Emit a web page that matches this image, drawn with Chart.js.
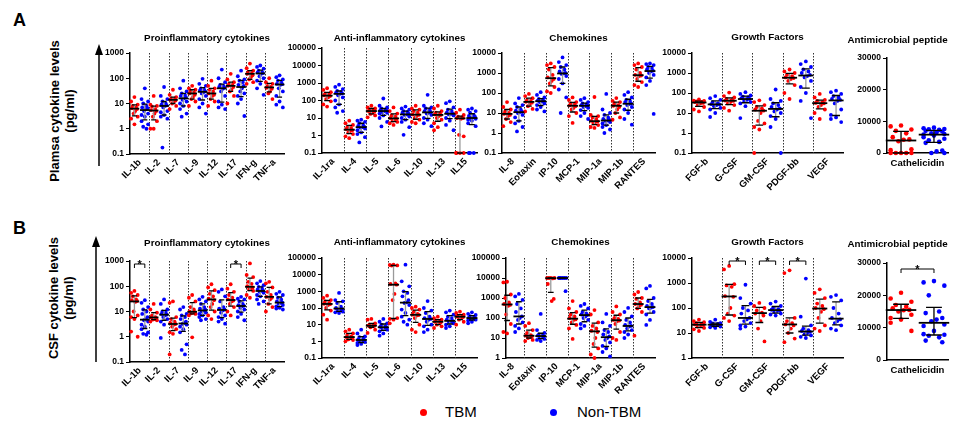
<!DOCTYPE html>
<html>
<head>
<meta charset="utf-8">
<script src="https://cdn.jsdelivr.net/npm/chart.js@4.4.0/dist/chart.umd.min.js"></script>
<style>
  body { margin: 0; width: 978px; height: 422px; background: #fff; position: relative; overflow: hidden;
         font-family: 'Liberation Sans', Arial, Helvetica, sans-serif; color: #000; }
  canvas { position: absolute; }
  .letter { position: absolute; font-weight: bold; font-size: 18px; line-height: 18px; }
  .ytitle { position: absolute; font-weight: bold; font-size: 13px; line-height: 15px; text-align: center;
            white-space: nowrap; transform: translate(-50%, -50%) rotate(-90deg); }
  .dot { position: absolute; width: 7px; height: 7px; border-radius: 50%; }
  .legtext { position: absolute; font-size: 15px; line-height: 18px; }
  svg { position: absolute; left: 0; top: 0; }
</style>
</head>
<body>

<div class="letter" style="left:13px;top:11px">A</div>
<div class="letter" style="left:13px;top:219px">B</div>
<div class="ytitle" style="left:62px;top:111px">Plamsa cytokine levels<br>(pg/ml)</div>
<div class="ytitle" style="left:61px;top:298px">CSF cytokine levels<br>(pg/ml)</div>

<svg width="978" height="422">
  <line x1="99" y1="166" x2="99" y2="52" stroke="#000" stroke-width="1.5"/>
  <polygon points="99,44 95,55 103,55" fill="#000"/>
  <line x1="96" y1="362" x2="96" y2="244" stroke="#000" stroke-width="1.5"/>
  <polygon points="96,236 92,247 100,247" fill="#000"/>
</svg>

<div class="dot" style="left:420px;top:409px;background:#ff0000"></div>
<div class="legtext" style="left:445px;top:403px">TBM</div>
<div class="dot" style="left:550px;top:409px;background:#0000ff"></div>
<div class="legtext" style="left:577px;top:403px">Non-TBM</div>

<script>
// tick labels
const ticksPro = ['0.1', '1', '10', '100', '1000'];
const ticksWide = ['0.1', '1', '10', '100', '1000', '10000', '100000'];
const ticksChemoA = ['0.1', '1', '10', '100', '1000', '10000'];
const ticksChemoB = ['1', '10', '100', '1000', '10000', '100000'];
const ticksGrowthB = ['1', '10', '100', '1000', '10000'];
const ticksPeptide = ['0', '10000', '20000', '30000'];

// categories
const proCats = ['IL-1b', 'IL-2', 'IL-7', 'IL-9', 'IL-12', 'IL-17', 'IFN-g', 'TNF-a'];
const antiCats = ['IL-1ra', 'IL-4', 'IL-5', 'IL-6', 'IL-10', 'IL-13', 'IL15'];
const chemoCats = ['IL-8', 'Eotaxin', 'IP-10', 'MCP-1', 'MIP-1a', 'MIP-1b', 'RANTES'];
const growthCats = ['FGF-b', 'G-CSF', 'GM-CSF', 'PDGF-bb', 'VEGF'];
const peptideCats = ['Cathelicidin'];

// A: plasma (pg/ml)
const plasmaProTBM = [
  [18, 12, 9, 8, 7, 6.5, 6, 5, 4, 3, 2.5, 1.5],
  [20, 9, 8, 7.5, 6, 5.5, 5, 4, 3, 2, 1, 1],
  [35, 22, 18, 16, 15, 14, 13, 12, 10, 8, 6],
  [50, 40, 35, 30, 27, 25, 22, 18, 15, 12, 8],
  [80, 50, 40, 35, 30, 25, 22, 20, 15, 12, 8],
  [150, 90, 70, 60, 55, 50, 45, 35, 30, 20, 10],
  [380, 250, 200, 180, 160, 150, 130, 110, 90, 70, 60],
  [100, 70, 60, 50, 45, 42, 38, 30, 25, 15]
];
const plasmaProNon = [
  [40, 15, 12, 10, 8, 7, 6.5, 6, 5, 4, 3.5, 3, 2, 1.5, 1.2, 1],
  [45, 20, 15, 12, 10, 9, 8.5, 8, 7, 5, 4.5, 3.5, 3, 2.5, 0.18],
  [80, 40, 30, 25, 22, 20, 18, 16, 14, 12, 10, 8, 6, 4, 3],
  [95, 60, 50, 40, 35, 33, 30, 28, 25, 20, 15, 10, 7, 4],
  [220, 100, 70, 55, 50, 45, 42, 38, 30, 20, 12, 9, 7, 6],
  [200, 120, 90, 80, 70, 55, 50, 40, 30, 25, 20, 15, 10, 3.2],
  [320, 280, 240, 200, 180, 170, 160, 150, 120, 100, 80, 60, 40, 22],
  [130, 110, 90, 80, 70, 60, 58, 55, 40, 30, 20, 12, 9, 7]
];
const plasmaAntiTBM = [
  [500, 400, 300, 250, 220, 200, 180, 150, 120, 90, 60, 45],
  [7, 5, 4, 3, 2.7, 2.3, 2, 1.8, 1.5, 1.2, 0.9, 0.7],
  [50, 40, 35, 30, 27, 25, 23, 20, 17, 14, 11],
  [40, 25, 18, 14, 12, 10, 9, 8, 7, 6, 5, 4],
  [50, 35, 30, 25, 20, 16, 15, 13, 10, 8, 6, 5],
  [50, 35, 25, 20, 18, 16, 15, 13, 10, 8, 5, 3, 2],
  [30, 20, 15, 12, 11, 10, 10, 9, 1.1, 0.9, 0.1, 0.1, 0.1, 0.1]
];
const plasmaAntiNon = [
  [800, 600, 450, 350, 300, 280, 260, 240, 200, 150, 100, 60, 40, 25, 20],
  [8, 7, 6, 5, 4, 3.5, 3.2, 3, 2.8, 2.5, 2, 1.5, 1.2, 0.8, 0.4],
  [130, 50, 40, 35, 30, 28, 27, 25, 22, 20, 18, 14, 10, 6, 3.3],
  [45, 35, 30, 25, 22, 20, 18, 16, 15, 12, 10, 8, 6, 3, 1.1],
  [210, 50, 40, 35, 30, 25, 22, 20, 18, 15, 10, 8, 5, 3.4],
  [90, 70, 40, 30, 25, 20, 18, 17, 16, 14, 10, 7, 4, 2],
  [35, 30, 25, 20, 15, 13, 12, 11, 10, 9, 8, 7, 5, 3.4, 0.1, 0.1, 0.1]
];
const plasmaChemoTBM = [
  [35, 20, 15, 12, 10, 9, 8, 7, 5, 3.5, 2.2],
  [90, 70, 55, 45, 40, 36, 33, 28, 22, 16, 12],
  [3000, 2500, 2000, 1500, 800, 600, 500, 400, 300, 200, 120, 100],
  [60, 45, 35, 30, 27, 24, 22, 18, 15, 10, 7, 3.2],
  [63, 8, 7, 6, 5, 4, 3.8, 3.5, 3, 2.5, 2, 1.8],
  [56, 40, 35, 30, 25, 23, 20, 15, 10, 6, 4.6],
  [3000, 2500, 2000, 1500, 1000, 800, 750, 700, 500, 350, 250, 200]
];
const plasmaChemoNon = [
  [56, 30, 25, 20, 15, 13, 12, 11, 10, 8, 6, 4, 3, 2, 1.2],
  [110, 80, 60, 50, 45, 42, 40, 38, 35, 30, 25, 20, 15, 12],
  [6000, 3500, 2500, 2000, 1500, 1200, 1000, 950, 900, 700, 500, 300, 150, 60, 10],
  [55, 45, 35, 30, 27, 25, 24, 22, 20, 18, 14, 10, 7, 5],
  [90, 15, 10, 8, 6, 5, 4.6, 4.2, 4, 3.5, 3, 2.5, 2, 1.5, 1],
  [110, 80, 60, 45, 40, 35, 30, 28, 25, 20, 15, 10, 5, 2.6],
  [3000, 2800, 2500, 2000, 1800, 1500, 1300, 1200, 1000, 800, 600, 400, 250, 9]
];
const plasmaGrowthTBM = [
  [48, 42, 40, 38, 36, 35, 32, 30, 25, 20, 15, 12],
  [105, 70, 60, 50, 45, 42, 40, 35, 30, 25, 18, 13],
  [43, 35, 25, 20, 17, 15, 13, 10, 4, 3, 2, 1.5, 0.1],
  [1500, 1200, 1000, 800, 700, 600, 560, 500, 400, 250, 100, 50],
  [90, 60, 45, 40, 35, 32, 30, 25, 20, 15, 10, 5]
];
const plasmaGrowthNon = [
  [70, 55, 45, 35, 30, 28, 27, 25, 22, 18, 15, 10, 6.3],
  [110, 90, 75, 65, 60, 55, 50, 45, 40, 35, 30, 22, 5.6],
  [150, 50, 40, 30, 25, 20, 17, 15, 12, 10, 7, 5, 2, 0.1],
  [3800, 2800, 2000, 1500, 1200, 1000, 800, 700, 600, 400, 200, 100, 40, 5.6],
  [130, 110, 90, 70, 60, 50, 45, 40, 30, 15, 8, 6, 5, 3.5]
];
const plasmaPeptideTBM = [
  [8700, 8400, 7400, 7000, 6200, 5000, 4300, 4200, 3700, 1200, 900, 0, 0, 0, 0, 0]
];
const plasmaPeptideNon = [
  [8000, 7800, 7600, 7500, 7300, 7000, 6800, 6500, 6200, 6000, 5800, 5500, 5000, 4500, 4000, 3500, 3200, 800, 500, 0, 0]
];

// B: CSF (pg/ml)
const csfProTBM = [
  [65, 55, 45, 40, 30, 28, 26, 24, 10, 7, 6, 5, 1.6, 1],
  [20, 12, 9, 7, 6, 5.8, 5.5, 5, 4.8, 4.5, 4],
  [25, 22, 6, 5, 4, 3.5, 3.2, 3, 2.5, 2, 1.5, 1.3, 0.2],
  [45, 35, 25, 15, 12, 10, 9.5, 9, 8.5, 8, 7, 0.95],
  [120, 90, 70, 50, 40, 32, 28, 20, 15, 10, 7, 5],
  [120, 80, 60, 45, 35, 30, 27, 25, 20, 15, 10, 7],
  [800, 280, 230, 150, 125, 100, 90, 80, 75, 65, 45, 35],
  [150, 130, 90, 60, 45, 38, 35, 30, 20, 15, 10]
];
const csfProNon = [
  [28, 22, 15, 12, 10, 8, 6, 5, 4.5, 4, 3, 2.5, 2, 1.5, 1.3, 1.2],
  [30, 20, 12, 10, 9, 8, 7.5, 7, 6, 5, 4, 3, 0.9],
  [15, 12, 8, 7, 6, 5, 4, 3.5, 3.2, 3, 2.5, 2, 1.5, 0.5, 0.3, 0.2],
  [38, 30, 25, 20, 15, 13, 12, 11, 10, 9, 8, 7, 6, 5, 4.5],
  [75, 60, 40, 25, 15, 13, 12, 11, 9, 7, 6, 5, 4, 3.3],
  [38, 32, 30, 25, 20, 18, 17, 16, 14, 12, 10, 8, 6, 4.5],
  [160, 130, 110, 95, 85, 75, 70, 65, 60, 55, 45, 40, 30, 25, 20],
  [60, 50, 45, 35, 30, 25, 23, 22, 20, 18, 16, 14, 13, 12]
];
const csfAntiTBM = [
  [550, 400, 300, 250, 200, 180, 170, 150, 100, 70, 40, 20],
  [5, 4, 3, 2.5, 2, 1.8, 1.7, 1.5, 1.3, 1.2, 1],
  [22, 20, 12, 10, 9, 8.7, 8.5, 8, 7, 5, 3.2],
  [40000, 38000, 36000, 35000, 3000, 2800, 2500, 700, 300, 25, 22, 20, 12],
  [120, 100, 80, 60, 45, 40, 38, 35, 25, 10, 5, 3.6],
  [30, 25, 20, 18, 16, 15, 14, 12, 10, 8, 6.3],
  [60, 50, 40, 35, 32, 30, 28, 25, 20, 15, 10]
];
const csfAntiNon = [
  [800, 300, 250, 200, 120, 100, 85, 80, 70, 60, 55, 50],
  [5, 3, 2, 1.8, 1.5, 1.3, 1.2, 1.1, 1, 0.9, 0.8, 0.7, 0.6],
  [22, 15, 12, 10, 8, 7.5, 7, 6.5, 6, 5, 4, 3, 2.2],
  [40000, 4000, 2000, 1000, 800, 500, 300, 220, 200, 150, 80, 50, 30, 20, 15, 10],
  [260, 100, 70, 50, 30, 25, 22, 20, 15, 10, 8, 5, 3.6],
  [70, 55, 40, 30, 25, 20, 17, 16, 15, 12, 10, 8, 6.3],
  [55, 45, 38, 32, 28, 26, 25, 24, 22, 20, 18, 15, 12]
];
const csfChemoTBM = [
  [6500, 6000, 1500, 1000, 600, 500, 450, 400, 150, 50, 20, 17],
  [55, 40, 25, 18, 14, 13, 12, 11, 10, 8, 7],
  [10000, 10000, 10000, 10000, 9500, 5000, 900, 700],
  [700, 300, 200, 150, 120, 100, 85, 80, 60, 45, 30, 9],
  [250, 150, 60, 40, 30, 23, 20, 10, 5, 3, 1.5, 1],
  [380, 200, 150, 100, 90, 80, 75, 70, 50, 20, 10, 8],
  [2000, 1500, 1000, 900, 600, 500, 460, 400, 300, 200, 13]
];
const csfChemoNon = [
  [1600, 1200, 800, 500, 300, 200, 120, 100, 80, 60, 40, 30, 20],
  [160, 25, 18, 15, 14, 13, 12, 11, 10, 9, 8, 7],
  [10000, 10000, 10000, 10000, 10000, 9800, 2200],
  [500, 400, 300, 200, 170, 150, 140, 120, 100, 80, 50, 40, 30],
  [160, 60, 40, 25, 20, 15, 12, 10, 8, 6, 4, 3, 2, 1.2],
  [320, 200, 120, 80, 60, 45, 40, 38, 30, 25, 20, 15, 10],
  [4000, 3000, 1000, 700, 500, 400, 350, 330, 300, 200, 150, 80, 45]
];
const csfGrowthTBM = [
  [34, 30, 27, 25, 23, 22, 21, 20, 18, 16, 14, 12],
  [4800, 3500, 900, 800, 700, 300, 280, 100, 60, 50, 40, 30],
  [160, 120, 100, 80, 65, 60, 50, 30, 15, 4.6],
  [3200, 2500, 40, 30, 25, 22, 20, 15, 10, 6, 4.3],
  [560, 400, 250, 150, 120, 100, 90, 70, 40, 20, 15, 12]
];
const csfGrowthNon = [
  [34, 28, 25, 24, 23, 22, 21, 20, 19, 18, 17, 16],
  [850, 250, 150, 100, 80, 60, 40, 35, 30, 25, 20, 18, 15],
  [180, 150, 120, 100, 90, 85, 80, 75, 70, 60, 55, 50],
  [1500, 45, 20, 15, 13, 12, 11, 10, 9, 8, 7, 6.3],
  [330, 280, 200, 100, 60, 40, 35, 30, 25, 20, 15, 13]
];
const csfPeptideTBM = [
  [20800, 19000, 18000, 17000, 16500, 16000, 15500, 15400, 15000, 14000, 13000, 12500, 11500, 9000]
];
const csfPeptideNon = [
  [24400, 24000, 23000, 20000, 15000, 14500, 13000, 12500, 12000, 11000, 10500, 9000, 8000, 7800, 7500, 7000, 6000, 5500]
];

// categories marked * (TBM vs Non-TBM)
const csfProSig = [0, 5];
const csfGrowthSig = [1, 2, 3];
const csfPeptideSig = [0];

const RED = '#ff0000';
const BLUE = '#0000ff';
const OFF = 0.27;
const SPREAD = [0, -1, 1, -0.5, 0.5, -0.8, 0.8, 0.25, -0.25, 1, -1];

Chart.defaults.font.family = "'Liberation Sans', Arial, Helvetica, sans-serif";
Chart.defaults.color = '#000';

const panels = [
  { cats: proCats, tbm: plasmaProTBM, non: plasmaProNon, ticks: ticksPro, log: true, sig: [],
    title: 'Proinflammatory cytokines', left: 130, right: 284, top: 53, bottom: 154, titleY: 38 },
  { cats: antiCats, tbm: plasmaAntiTBM, non: plasmaAntiNon, ticks: ticksWide, log: true, sig: [],
    title: 'Anti-inflammatory cytokines', left: 322, right: 477, top: 48, bottom: 153, titleY: 38 },
  { cats: chemoCats, tbm: plasmaChemoTBM, non: plasmaChemoNon, ticks: ticksChemoA, log: true, sig: [],
    title: 'Chemokines', left: 502, right: 655, top: 53, bottom: 153, titleY: 38 },
  { cats: growthCats, tbm: plasmaGrowthTBM, non: plasmaGrowthNon, ticks: ticksChemoA, log: true, sig: [],
    title: 'Growth Factors', left: 692, right: 843, top: 53, bottom: 153, titleY: 37 },
  { cats: peptideCats, tbm: plasmaPeptideTBM, non: plasmaPeptideNon, ticks: ticksPeptide, log: false, sig: [],
    title: 'Antimicrobial peptide', left: 887, right: 948, top: 58, bottom: 153, titleY: 40 },
  { cats: proCats, tbm: csfProTBM, non: csfProNon, ticks: ticksPro, log: true, sig: csfProSig,
    title: 'Proinflammatory cytokines', left: 130, right: 284, top: 261, bottom: 362, titleY: 243 },
  { cats: antiCats, tbm: csfAntiTBM, non: csfAntiNon, ticks: ticksWide, log: true, sig: [],
    title: 'Anti-inflammatory cytokines', left: 322, right: 477, top: 258, bottom: 358, titleY: 242 },
  { cats: chemoCats, tbm: csfChemoTBM, non: csfChemoNon, ticks: ticksChemoB, log: true, sig: [],
    title: 'Chemokines', left: 506, right: 655, top: 258, bottom: 358, titleY: 242, xMin: -0.32 },
  { cats: growthCats, tbm: csfGrowthTBM, non: csfGrowthNon, ticks: ticksGrowthB, log: true, sig: csfGrowthSig,
    title: 'Growth Factors', left: 692, right: 843, top: 258, bottom: 358, titleY: 242 },
  { cats: peptideCats, tbm: csfPeptideTBM, non: csfPeptideNon, ticks: ticksPeptide, log: false, sig: csfPeptideSig,
    title: 'Antimicrobial peptide', left: 887, right: 948, top: 263, bottom: 360, titleY: 244 }
];

function quartile(sorted, p) {
  const n = sorted.length;
  let pos = Math.min(Math.max(p * (n + 1) - 1, 0), n - 1);
  const lo = Math.floor(pos), hi = Math.ceil(pos);
  return sorted[lo] + (sorted[hi] - sorted[lo]) * (pos - lo);
}

function points(groups, off) {
  const out = [];
  groups.forEach((vals, i) => {
    vals.forEach((v, j) => out.push({ x: i + off + SPREAD[j % SPREAD.length] * 0.17, y: v }));
  });
  return out;
}

function makePanel(p) {
  const yW = 40;
  // the single-category panels get a wide right margin so a full-width title stays centred on the plot
  const padR = p.log ? 6 : 40;
  const xH = p.log ? 40 : 22;
  const cTop = Math.round(p.titleY - 6);
  const w = p.right - p.left + yW + padR;
  const h = p.bottom - cTop + xH;
  const canvas = document.createElement('canvas');
  canvas.width = w;
  canvas.height = h;
  canvas.style.left = (p.left - yW) + 'px';
  canvas.style.top = cTop + 'px';
  document.body.appendChild(canvas);

  const n = p.cats.length;
  const tickVals = p.ticks.map(Number);

  new Chart(canvas, {
    type: 'scatter',
    data: {
      datasets: [
        { label: 'TBM', data: points(p.tbm, -OFF), backgroundColor: RED, borderWidth: 0,
          pointRadius: p.log ? 1.9 : 2.3, clip: false },
        { label: 'Non-TBM', data: points(p.non, OFF), backgroundColor: BLUE, borderWidth: 0,
          pointRadius: p.log ? 1.9 : 2.3, clip: false }
      ]
    },
    options: {
      responsive: false,
      animation: false,
      events: [],
      layout: { padding: { right: padR } },
      plugins: {
        legend: { display: false },
        tooltip: { enabled: false },
        title: {
          display: true, text: p.title, fullSize: !p.log,
          font: { size: 9.8, weight: 'bold' }, color: '#000',
          padding: { top: 0, bottom: p.top - cTop - 11.76 }
        }
      },
      scales: {
        x: {
          type: 'linear',
          min: p.xMin !== undefined ? p.xMin : -0.5,
          max: n - 0.5,
          afterBuildTicks: s => { s.ticks = p.cats.map((c, i) => ({ value: i })); },
          afterFit: s => { s.height = xH; },
          ticks: {
            autoSkip: false,
            minRotation: p.log ? 45 : 0,
            maxRotation: p.log ? 45 : 0,
            padding: p.log ? 3 : 5,
            font: { size: p.log ? 9.5 : 9.5, weight: 'bold' },
            color: '#000',
            callback: v => p.cats[Math.round(v)]
          },
          grid: { display: false, drawTicks: false },
          border: { display: true, color: '#000', width: 1.5 }
        },
        y: {
          type: p.log ? 'logarithmic' : 'linear',
          min: tickVals[0],
          max: tickVals[tickVals.length - 1],
          afterBuildTicks: s => { s.ticks = tickVals.map(v => ({ value: v })); },
          afterFit: s => { s.width = yW; },
          ticks: {
            padding: 2,
            font: { size: 8.5, weight: 'bold' },
            color: '#000',
            callback: v => p.ticks[tickVals.indexOf(v)]
          },
          grid: { display: true, drawOnChartArea: false, drawTicks: true, tickLength: 4, color: '#000', lineWidth: 1 },
          border: { display: true, color: '#000', width: 1.5 }
        }
      }
    },
    plugins: [{
      id: 'panelDeco',
      beforeDatasetsDraw(chart) {
        const { ctx, chartArea, scales: { x } } = chart;
        ctx.save();
        ctx.strokeStyle = '#333';
        ctx.lineWidth = 1;
        ctx.setLineDash([1.5, 1.5]);
        for (let i = 0; i < n - 1; i++) {
          const px = Math.round(x.getPixelForValue(i + 0.5)) + 0.5;
          ctx.beginPath();
          ctx.moveTo(px, chartArea.top);
          ctx.lineTo(px, chartArea.bottom);
          ctx.stroke();
        }
        ctx.restore();
      },
      afterDatasetsDraw(chart) {
        const { ctx, scales: { x, y } } = chart;
        const u = x.getPixelForValue(1) - x.getPixelForValue(0);
        ctx.save();
        [[p.tbm, -OFF], [p.non, OFF]].forEach(([groups, off]) => {
          groups.forEach((vals, i) => {
            const s = [...vals].sort((a, b) => a - b);
            const q1 = y.getPixelForValue(quartile(s, 0.25));
            const md = y.getPixelForValue(quartile(s, 0.5));
            const q3 = y.getPixelForValue(quartile(s, 0.75));
            const cx = x.getPixelForValue(i + off);
            ctx.lineWidth = 1.3;
            ctx.strokeStyle = p.log ? '#9a9a9a' : '#000';
            ctx.beginPath();
            ctx.moveTo(cx, q1);
            ctx.lineTo(cx, q3);
            ctx.stroke();
            ctx.strokeStyle = '#000';
            ctx.beginPath();
            ctx.moveTo(cx - 0.13 * u, q1); ctx.lineTo(cx + 0.13 * u, q1);
            ctx.moveTo(cx - 0.13 * u, q3); ctx.lineTo(cx + 0.13 * u, q3);
            ctx.stroke();
            ctx.lineWidth = 1.8;
            ctx.beginPath();
            ctx.moveTo(cx - 0.25 * u, md); ctx.lineTo(cx + 0.25 * u, md);
            ctx.stroke();
          });
        });
        ctx.restore();
      },
      afterDraw(chart) {
        const { ctx, chartArea, scales: { x } } = chart;
        ctx.save();
        ctx.strokeStyle = '#000';
        ctx.fillStyle = '#000';
        ctx.lineWidth = 1;
        ctx.font = "bold 11px 'Liberation Sans', Arial, sans-serif";
        ctx.textAlign = 'center';
        ctx.textBaseline = 'alphabetic';
        p.sig.forEach(i => {
          const x1 = x.getPixelForValue(i - OFF), x2 = x.getPixelForValue(i + OFF);
          const yb = chartArea.top + (p.log ? 3 : 6);
          ctx.beginPath();
          ctx.moveTo(x1, yb + 4); ctx.lineTo(x1, yb); ctx.lineTo(x2, yb); ctx.lineTo(x2, yb + 4);
          ctx.stroke();
          ctx.fillText('*', (x1 + x2) / 2, yb + 4);
        });
        ctx.restore();
      }
    }]
  });
}

panels.forEach(makePanel);
</script>
</body>
</html>
